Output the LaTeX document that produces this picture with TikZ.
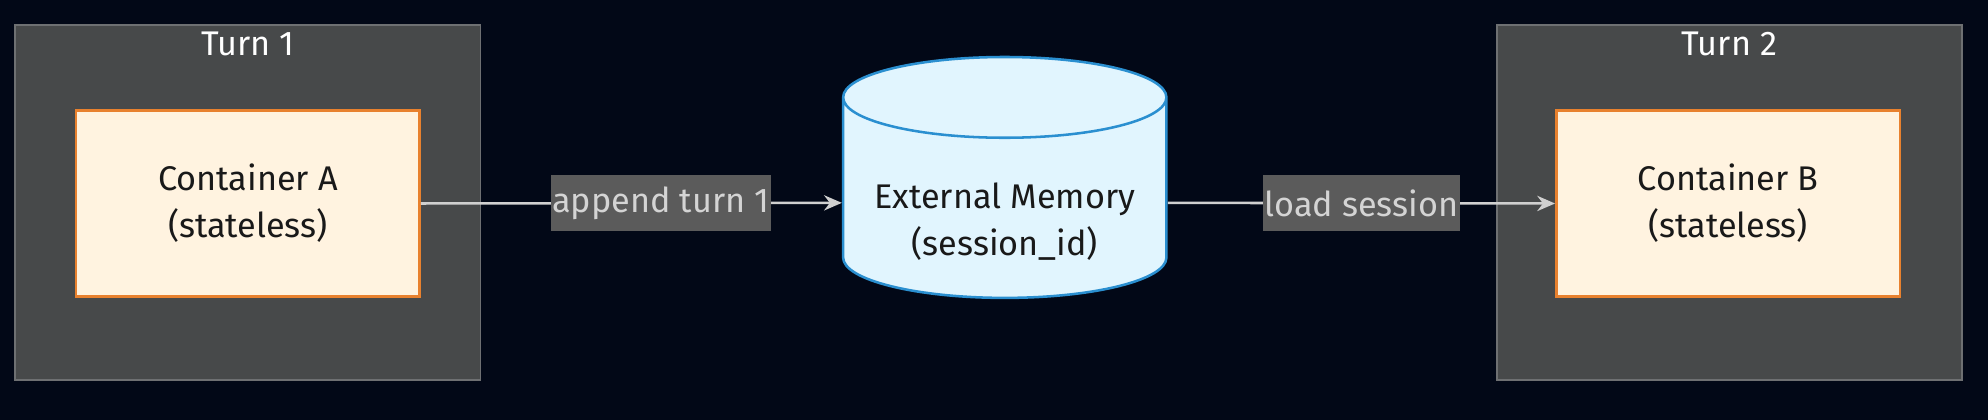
\documentclass[tikz,border=0pt]{standalone}
\usepackage{fontspec}
\setmainfont{Fira Sans}
\usetikzlibrary{positioning, shapes.geometric, arrows.meta}
\definecolor{bgnavy}{HTML}{020817}
\definecolor{clfill}{HTML}{47494A}
\definecolor{cldraw}{HTML}{6E7072}
\definecolor{boxfill}{HTML}{FFF3E0}
\definecolor{boxdraw}{HTML}{E8812E}
\definecolor{dbfill}{HTML}{E1F5FE}
\definecolor{dbdraw}{HTML}{2A8FD0}
\definecolor{lblfill}{HTML}{5B5B5B}
\definecolor{lbltext}{HTML}{D4D4D4}
\definecolor{edge}{HTML}{D0D0D0}

\begin{document}
\begin{tikzpicture}[
    x=1pt, y=-1pt,
    cluster/.style={draw=cldraw, fill=clfill, line width=1.5pt, minimum width=367pt, minimum height=280pt},
    box/.style={draw=boxdraw, fill=boxfill, line width=2pt, minimum width=271pt, minimum height=147pt, align=center, font=\fontsize{27}{37}\selectfont, text=black!90},
    store/.style={cylinder, shape border rotate=90, aspect=0.3, draw=dbdraw, fill=dbfill, line width=2pt, minimum width=255pt, minimum height=190pt, align=center, font=\fontsize{27}{37}\selectfont, text=black!90},
    title/.style={font=\fontsize{27}{32}\selectfont, text=white},
    lbl/.style={fill=lblfill, text=lbltext, font=\fontsize{27}{32}\selectfont, inner sep=1pt, minimum height=44pt},
    arrow/.style={-{Stealth[length=14pt, width=12pt]}, edge, line width=2pt}
]
\fill[bgnavy] (0,0) rectangle (1568,331);
\useasboundingbox (0,0) rectangle (1568,331);

% Clusters
\node[cluster] (T1) at (195.5,160) {};
\node[title, below=2pt of T1.north] (T1t) {Turn 1};
\node[cluster] (T2) at (1364,160) {};
\node[title, below=2pt of T2.north] (T2t) {Turn 2};

% Nodes
\node[box] (CA) at (195.5,160.5) {Container A\\(stateless)};
\node[box] (CB) at (1363,160.5) {Container B\\(stateless)};
\node[store] (MEM) at (792.5,160) {\rule{0pt}{50pt}External Memory\\(session\_id)};

% Edges
\draw[arrow] (CA.east) -- (MEM.west) node[lbl, pos=0.57] {append turn 1};
\draw[arrow] (MEM.east) -- (CB.west) node[lbl, pos=0.5] {load session};
\end{tikzpicture}
\end{document}
